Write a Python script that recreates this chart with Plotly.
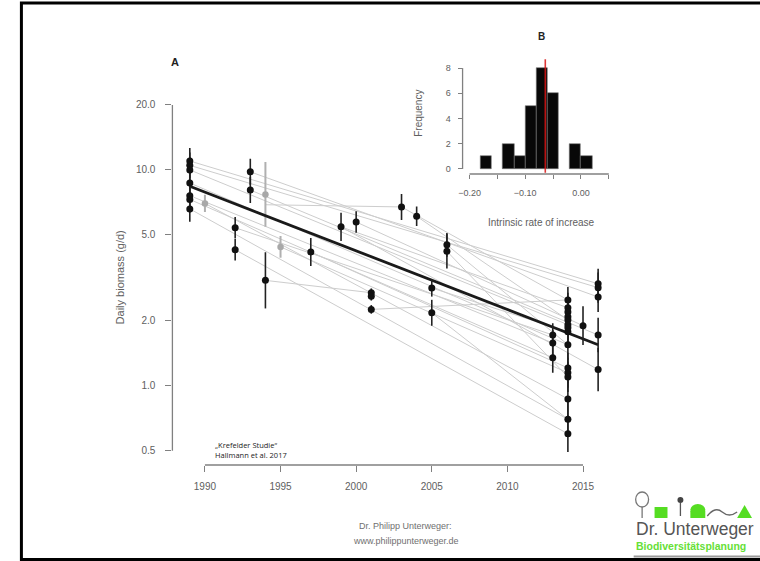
import plotly.graph_objects as go

W, H = 760, 561

# ---------------- data ----------------
# main panel A: observed daily biomass per site-year (black points)
pt_year = [1989, 1989, 1989, 1989, 1989, 1989, 1989,
           1992, 1992, 1993, 1993, 1994, 1997, 1999, 2000,
           2001, 2001, 2001, 2003, 2004, 2005, 2005, 2006, 2006,
           2013, 2013, 2013,
           2014, 2014, 2014, 2014, 2014, 2014, 2014, 2014, 2014, 2014, 2014, 2014, 2014, 2014, 2014,
           2015, 2016, 2016, 2016, 2016, 2016]
pt_value = [11.0, 10.5, 10.0, 8.7, 7.6, 7.3, 6.6,
            5.4, 4.27, 9.8, 8.07, 3.08, 4.17, 5.45, 5.74,
            2.7, 2.6, 2.26, 6.74, 6.1, 2.84, 2.18, 4.5, 4.2,
            1.72, 1.58, 1.35,
            2.5, 2.3, 2.2, 2.09, 2.02, 1.92, 1.86, 1.78, 1.55, 1.21, 1.15, 1.10, 0.87, 0.70, 0.60,
            1.9, 2.97, 2.85, 2.58, 1.72, 1.19]
pt_err = [0.06, 0.06, 0.06, 0.06, 0.06, 0.06, 0.06,
          0.05, 0.05, 0.06, 0.06, 0.13, 0.065, 0.065, 0.05,
          0.02, 0.02, 0.02, 0.06, 0.045, 0.04, 0.06, 0.055, 0.08,
          0.055, 0.06, 0.07,
          0.06, 0.07, 0.07, 0.07, 0.07, 0.07, 0.07, 0.07, 0.07, 0.07, 0.07, 0.07, 0.08, 0.08, 0.085,
          0.09, 0.07, 0.07, 0.07, 0.08, 0.1]

# grey points (lighter sites)
gpt_year = [1990, 1994, 1995]
gpt_value = [7.0, 7.7, 4.4]
gpt_err = [0.04, 0.15, 0.05]

# site-specific fitted trends (grey lines)
site_y0 = [2001, 1994, 1994, 1989, 1989, 1993, 1992, 2005, 1999, 1993, 1989, 2000, 1989,
           1997, 1995, 1989, 1989, 2003, 1989, 1992, 1990, 1999, 2004, 2005, 2006, 2006]
site_v0 = [2.26, 6.9, 3.08, 11.0, 10.5, 9.8, 5.4, 2.84, 5.45, 8.07, 7.6, 5.74, 8.7,
           4.17, 4.4, 10.0, 7.3, 6.74, 6.6, 4.27, 7.0, 5.45, 6.1, 2.18, 4.5, 4.2]
site_y1 = [2014, 2003, 2001, 2016, 2016, 2016, 2013, 2014, 2014, 2016, 2013, 2015, 2014,
           2014, 2014, 2014, 2013, 2014, 2014, 2014, 2014, 2016, 2014, 2014, 2014, 2014]
site_v1 = [2.5, 6.74, 2.7, 2.97, 2.85, 2.58, 1.72, 1.78, 2.3, 1.72, 1.58, 1.9, 1.55,
           1.21, 1.15, 1.92, 1.35, 2.5, 0.70, 0.60, 0.87, 1.19, 2.02, 0.70, 1.55, 1.10]

# overall trend (thick black line)
trend_year = [1989, 2016]
trend_value = [8.4, 1.55]

x_ticks = [1990, 1995, 2000, 2005, 2010, 2015]
y_ticks = [0.5, 1, 2, 5, 10, 20]
y_ticktext = ["0.5", "1.0", "2.0", "5.0", "10.0", "20.0"]

# panel B: histogram of intrinsic rate of increase
bin_center = [-0.17, -0.13, -0.11, -0.09, -0.07, -0.05, -0.01, 0.01]
bin_count = [1, 2, 1, 5, 8, 6, 2, 1]
bin_width = 0.02
mean_rate = -0.064
mean_label = "80.6 %"
hx_ticks = [-0.20, -0.15, -0.10, -0.05, 0.00, 0.05]
hx_ticktext = ["\u22120.20", "", "\u22120.10", "", "0.00", ""]
hy_ticks = [0, 2, 4, 6, 8]


def fx(p):
    return p / W


def fy(p):
    return 1 - p / H


AX = "#808080"
TX = "#606060"
FONT = "Liberation Sans"

fig = go.Figure()

# grey site lines
lx, ly = [], []
for a, b, c, d in zip(site_y0, site_v0, site_y1, site_v1):
    lx += [a, c, None]
    ly += [b, d, None]
fig.add_trace(go.Scatter(x=lx, y=ly, mode="lines", line=dict(color="#cdcdcd", width=1),
                         hoverinfo="skip", showlegend=False))


def err_arrays(vals, errs):
    plus = [v * (10 ** e - 1) for v, e in zip(vals, errs)]
    minus = [v * (1 - 10 ** (-e)) for v, e in zip(vals, errs)]
    return plus, minus


gp, gm = err_arrays(gpt_value, gpt_err)
fig.add_trace(go.Scatter(x=gpt_year, y=gpt_value, mode="markers",
                         marker=dict(color="#a8a8a8", size=6.5),
                         error_y=dict(type="data", array=gp, arrayminus=gm, symmetric=False,
                                      color="#b0b0b0", thickness=2, width=0),
                         showlegend=False))

fig.add_trace(go.Scatter(x=trend_year, y=trend_value, mode="lines",
                         line=dict(color="#1a1a1a", width=2.8), showlegend=False))

pp, pm = err_arrays(pt_value, pt_err)
fig.add_trace(go.Scatter(x=pt_year, y=pt_value, mode="markers",
                         marker=dict(color="#111111", size=7),
                         error_y=dict(type="data", array=pp, arrayminus=pm, symmetric=False,
                                      color="#222222", thickness=1.6, width=0),
                         showlegend=False))

# histogram
fig.add_trace(go.Bar(x=bin_center, y=bin_count, width=bin_width,
                     marker=dict(color="#080808", line=dict(color="#777777", width=0.6)),
                     xaxis="x2", yaxis="y2", showlegend=False))

fig.update_layout(
    width=W, height=H, margin=dict(l=0, r=0, t=0, b=0),
    paper_bgcolor="white", plot_bgcolor="rgba(0,0,0,0)",
    font=dict(family=FONT, color=TX, size=10),
    bargap=0,
    xaxis=dict(domain=[fx(169.3), fx(614)], range=[1987.85, 2017.1],
               tickvals=x_ticks, ticks="outside", ticklen=6, tickwidth=1.2, tickcolor=AX,
               showline=False, showgrid=False, zeroline=False,
               tickfont=dict(size=10, color=TX), ticklabelstandoff=6, anchor="y"),
    yaxis=dict(domain=[fy(465), fy(95)], type="log", range=[-0.3665, 1.347],
               tickvals=y_ticks, ticktext=y_ticktext, ticks="outside", ticklen=6, tickwidth=1.2,
               tickcolor=AX, showline=False, showgrid=False, zeroline=False,
               tickfont=dict(size=10, color=TX), ticklabelstandoff=8, anchor="x"),
    xaxis2=dict(domain=[fx(461), fx(630)], range=[-0.2125, 0.0893],
                tickvals=hx_ticks, ticktext=hx_ticktext, ticks="outside", ticklen=4,
                tickcolor=AX, tickwidth=1.2, showline=False, showgrid=False, zeroline=False,
                tickfont=dict(size=9, color=TX), ticklabelstandoff=6, anchor="y2"),
    yaxis2=dict(domain=[fy(174), fy(58)], range=[-0.4, 8.8],
                tickvals=hy_ticks, ticks="outside", ticklen=4, tickcolor=AX, tickwidth=1.2,
                showline=False, showgrid=False, zeroline=False,
                tickfont=dict(size=9, color=TX), ticklabelstandoff=5, anchor="x2"),
)

shapes = [
    # R-style axis lines spanning tick range
    dict(type="line", xref="x", yref="y domain", x0=x_ticks[0], x1=x_ticks[-1], y0=0, y1=0,
         line=dict(color=AX, width=1.3)),
    dict(type="line", xref="x domain", yref="y", x0=0, x1=0, y0=y_ticks[0], y1=y_ticks[-1],
         line=dict(color=AX, width=1.3)),
    dict(type="line", xref="x2", yref="y2 domain", x0=hx_ticks[0], x1=hx_ticks[-1], y0=0, y1=0,
         line=dict(color=AX, width=1.3)),
    dict(type="line", xref="x2 domain", yref="y2", x0=0, x1=0, y0=hy_ticks[0], y1=hy_ticks[-1],
         line=dict(color=AX, width=1.3)),
    # mean rate line
    dict(type="line", xref="x2", yref="y2", x0=mean_rate, x1=mean_rate, y0=-0.3, y1=8.7,
         line=dict(color="rgba(215,20,20,0.85)", width=1.6)),
    # slide frame
    dict(type="rect", xref="paper", yref="paper", x0=fx(17.5), x1=1.05, y0=fy(559.5), y1=fy(3),
         line=dict(color="black", width=3)),
    dict(type="line", xref="paper", yref="paper", x0=fx(633), x1=1, y0=fy(556.5), y1=fy(556.5),
         line=dict(color="#9a9a9a", width=2)),
    # logo pictograms
    dict(type="circle", xref="paper", yref="paper", x0=fx(635), x1=fx(648), y0=fy(507), y1=fy(492),
         line=dict(color="#777777", width=1.3)),
    dict(type="line", xref="paper", yref="paper", x0=fx(641.5), x1=fx(641.5), y0=fy(518), y1=fy(507),
         line=dict(color="#777777", width=1.3)),
    dict(type="rect", xref="paper", yref="paper", x0=fx(654), x1=fx(667), y0=fy(518), y1=fy(507),
         fillcolor="#55dd22", line=dict(width=0)),
    dict(type="circle", xref="paper", yref="paper", x0=fx(677), x1=fx(683), y0=fy(503), y1=fy(497),
         fillcolor="#444444", line=dict(width=0)),
    dict(type="line", xref="paper", yref="paper", x0=fx(680), x1=fx(680), y0=fy(516), y1=fy(503),
         line=dict(color="#555555", width=1.3)),
    dict(type="path", xref="paper", yref="paper",
         path="M %f %f L %f %f L %f %f L %f %f Z" % (fx(690), fy(518), fx(690), fy(511), fx(705), fy(511), fx(705), fy(518)),
         fillcolor="#55dd22", line=dict(width=0)),
    dict(type="circle", xref="paper", yref="paper", x0=fx(690), x1=fx(705), y0=fy(516), y1=fy(504),
         fillcolor="#55dd22", line=dict(width=0)),
    dict(type="path", xref="paper", yref="paper",
         path="M %f %f Q %f %f %f %f Q %f %f %f %f" % (fx(707), fy(516), fx(715), fy(506), fx(722), fy(512),
                                                    fx(729), fy(518), fx(737), fy(512)),
         line=dict(color="#666666", width=1.3)),
    dict(type="path", xref="paper", yref="paper",
         path="M %f %f L %f %f L %f %f Z" % (fx(737), fy(518), fx(744.5), fy(505), fx(752), fy(518)),
         fillcolor="#55dd22", line=dict(width=0)),
]
fig.update_layout(shapes=shapes)

ann = [
    dict(text="<b>A</b>", x=fx(172), y=fy(62), size=11, color="#222222"),
    dict(text="<b>B</b>", x=fx(540), y=fy(36), size=10, color="#222222"),
    dict(text="Daily biomass (g/d)", x=fx(117), y=fy(277), size=11, color=TX, angle=-90),
    dict(text="Frequency", x=fx(416), y=fy(113), size=10, color=TX, angle=-90),
    dict(text="Intrinsic rate of increase", x=fx(540), y=fy(222), size=10, color=TX),
    dict(text="Dr. Philipp Unterweger:", x=fx(404), y=fy(526), size=9, color="#707070"),
    dict(text="www.philippunterweger.de", x=fx(404), y=fy(541), size=9, color="#707070"),
    dict(text="Dr. Unterweger", x=fx(633), y=fy(529), size=17.5, color="#555555", xanchor="left"),
    dict(text="<b>Biodiversitätsplanung</b>", x=fx(633), y=fy(546), size=10.5, color="#66e036", xanchor="left"),
]
annotations = []
for a in ann:
    annotations.append(dict(text=a["text"], xref="paper", yref="paper", x=a["x"], y=a["y"],
                            xanchor=a.get("xanchor", "center"), yanchor="middle",
                            textangle=a.get("angle", 0), showarrow=False,
                            font=dict(family=FONT, size=a["size"], color=a["color"])))
annotations.append(dict(text="\u201eKrefelder Studie\u201c<br>Hallmann et al. 2017", xref="paper", yref="paper",
                        x=fx(210), y=fy(450), xanchor="left", yanchor="middle", align="left",
                        showarrow=False, font=dict(family="Open Sans", size=7.5, color="#222222")))
annotations.append(dict(text=mean_label, xref="x2", yref="y2", x=mean_rate, y=9.1,
                        xanchor="center", yanchor="middle", showarrow=False,
                        font=dict(family=FONT, size=6, color="#e04040")))
fig.update_layout(annotations=annotations)

fig.write_html("out.html",
               config={"displayModeBar": False},
               post_script="document.body.style.margin='0';document.body.style.padding='0';"
                           "document.body.style.overflow='hidden';")
